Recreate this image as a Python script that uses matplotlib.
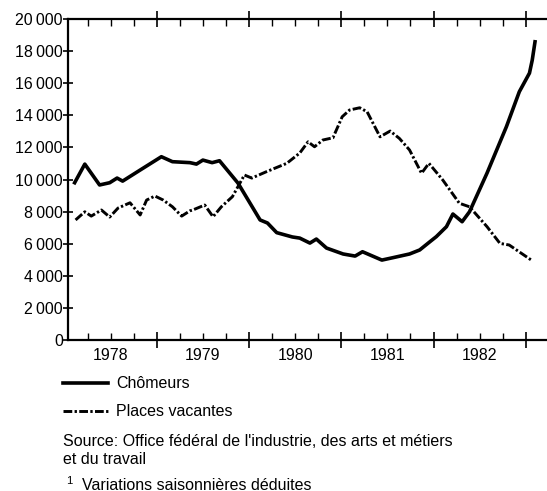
import matplotlib
matplotlib.use("Agg")
import matplotlib.pyplot as plt
from matplotlib.lines import Line2D
from matplotlib.ticker import MultipleLocator, FuncFormatter

plt.rcParams['font.family'] = ['Liberation Sans', 'DejaVu Sans']

# — Data (time in decimal years) —
chom_t = [1978.11, 1978.22, 1978.38, 1978.49, 1978.57, 1978.63, 1978.82, 1979.05,
          1979.17, 1979.36, 1979.43, 1979.50, 1979.60, 1979.68, 1979.88, 1980.12,
          1980.20, 1980.30, 1980.47, 1980.55, 1980.66, 1980.73, 1980.84, 1981.02,
          1981.15, 1981.23, 1981.44, 1981.56, 1981.74, 1981.85, 1981.96, 1982.03,
          1982.14, 1982.21, 1982.31, 1982.39, 1982.58, 1982.79, 1982.93, 1983.04,
          1983.07, 1983.10]
chom_v = [9800, 10960, 9660, 9800, 10090, 9900, 10590, 11420,
          11110, 11050, 10960, 11210, 11050, 11170, 9780, 7480,
          7290, 6690, 6420, 6350, 6040, 6290, 5730, 5360,
          5230, 5500, 4980, 5130, 5360, 5610, 6120, 6440,
          7060, 7850, 7370, 7990, 10400, 13290, 15470, 16630,
          17440, 18580]

vac_t = [1978.12, 1978.22, 1978.29, 1978.40, 1978.49, 1978.58, 1978.71, 1978.82,
         1978.89, 1978.98, 1979.07, 1979.17, 1979.27, 1979.36, 1979.39, 1979.52,
         1979.61, 1979.70, 1979.82, 1979.95, 1980.03, 1980.19, 1980.41, 1980.55,
         1980.64, 1980.71, 1980.80, 1980.91, 1981.01, 1981.09, 1981.20, 1981.28,
         1981.42, 1981.53, 1981.63, 1981.74, 1981.87, 1981.95, 1982.10, 1982.28,
         1982.39, 1982.58, 1982.72, 1982.82, 1983.06]
vac_v = [7480, 7990, 7720, 8100, 7660, 8220, 8550, 7790,
         8720, 8970, 8720, 8300, 7720, 8050, 8100, 8410,
         7680, 8300, 8930, 10280, 10090, 10490, 11010, 11650,
         12350, 12040, 12460, 12600, 13910, 14330, 14470, 14220,
         12660, 13020, 12560, 11840, 10390, 11010, 9970, 8520,
         8300, 7060, 6020, 5920, 4980]

years = [1978, 1979, 1980, 1981, 1982]
y_ticks = list(range(0, 20001, 2000))

fig = plt.figure(figsize=(5.47, 4.91), dpi=100)
ax = fig.add_axes([0.124, 0.3075, 0.876, 0.6538])

ax.plot(chom_t, chom_v, color="black", lw=2.6, solid_joinstyle="round")
ax.plot(vac_t, vac_v, color="black", lw=2.1, dashes=[3, 0.8, 0.8, 0.8])

ax.set_xlim(1978.036, 1983.23)
ax.set_ylim(0, 20000)

for s in ["left", "bottom", "top"]:
    ax.spines[s].set_linewidth(1.6)
ax.spines["right"].set_visible(False)

ax.set_yticks(y_ticks)
ax.yaxis.set_major_formatter(FuncFormatter(lambda v, p: "0" if v == 0 else f"{int(v):,}".replace(",", "\u2009")))
ax.tick_params(axis="y", direction="inout", length=7, width=1.2, labelsize=11.5, pad=0)

ax.set_xticks([1979, 1980, 1981, 1982, 1983])
ax.xaxis.set_minor_locator(MultipleLocator(0.25))
ax.tick_params(axis="x", which="major", direction="inout", length=12, width=1.2,
               top=True, labelbottom=False)
ax.tick_params(axis="x", which="minor", direction="in", length=5, width=1.0, top=True)

for yr in years:
    ax.text(yr + 0.5, -0.048, str(yr), transform=ax.get_xaxis_transform(),
            ha="center", va="center", fontsize=11.5)

# legend and notes
fig.add_artist(Line2D([63 / 547, 108 / 547], [1 - 383 / 491] * 2, color="black", lw=2.6))
fig.add_artist(Line2D([63 / 547, 108 / 547], [1 - 411 / 491] * 2, color="black", lw=2.1,
                      dashes=[3, 0.8, 0.8, 0.8]))
fig.text(116 / 547, 1 - 383 / 491, "Chômeurs", fontsize=11.5, va="center")
fig.text(116 / 547, 1 - 411 / 491, "Places vacantes", fontsize=11.5, va="center")
fig.text(63 / 547, 1 - 441 / 491, "Source: Office fédéral de l'industrie, des arts et métiers",
         fontsize=11.5, va="center")
fig.text(63 / 547, 1 - 459 / 491, "et du travail", fontsize=11.5, va="center")
fig.text(66 / 547, 1 - 481 / 491, "1", fontsize=8, va="center")
fig.text(82 / 547, 1 - 485 / 491, "Variations saisonnières déduites", fontsize=11.5, va="center")

fig.savefig("out.png", dpi=100)
